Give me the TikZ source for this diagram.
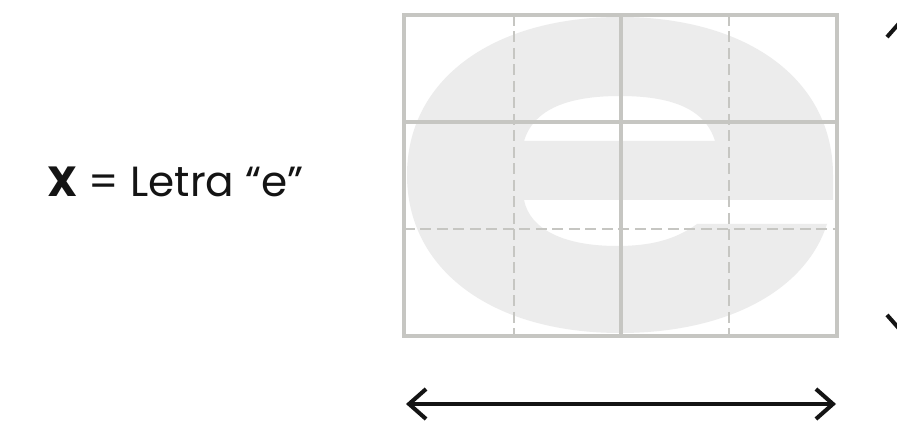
\documentclass[tikz,border=0pt]{standalone}
\usepackage{fontspec}
\setmainfont{Poppins}
\usepackage{tikz}
\usetikzlibrary{arrows.meta,positioning}
\definecolor{gridgray}{RGB}{198,198,194}
\definecolor{glyphgray}{RGB}{236,236,236}
\definecolor{inkblack}{RGB}{20,20,20}
\tikzset{
  gridline/.style={draw=gridgray, line width=2pt},
  gridguide/.style={draw=gridgray, line width=1.2pt, dash pattern=on 0.22cm off 0.11cm},
  measure/.style={draw=inkblack, line width=2.3pt, {Straight Barb[length=0.34cm,width=0.6cm]}-{Straight Barb[length=0.34cm,width=0.6cm]}}
}

\begin{document}
\begin{tikzpicture}[x=0.02cm, y=-0.02cm, every node/.style={font=\fontsize{24}{29}\selectfont, text=inkblack}]
\clip (0,0) rectangle (897,425);
\fill[white] (0,0) rectangle (897,425);

\node (lbl) [anchor=base west, inner sep=0pt] at (47,197) {\textbf{X} = Letra “e”};

\fill[glyphgray, even odd rule]
  (833,200) -- (833,175) .. controls (833,80) and (748,17) .. (620,17)
  .. controls (492,17) and (407,80) .. (407,175)
  .. controls (407,270) and (492,333) .. (620,333)
  .. controls (725,333) and (805,292) .. (827,224) -- (697,224)
  .. controls (675,240) and (650,246) .. (617,246)
  .. controls (565,246) and (530,230) .. (524,200) -- cycle
  (524,141) -- (715,141) .. controls (705,108) and (670,96) .. (620,96)
  .. controls (570,96) and (534,108) .. (524,141) -- cycle;

\draw[gridguide] (514,15) -- (514,336);
\draw[gridguide] (729,15) -- (729,336);
\draw[gridguide] (404,229) -- (837,229);
\draw[gridline] (404,15) rectangle (837,336);
\draw[gridline] (621,15) -- (621,336);
\draw[gridline] (404,122) -- (837,122);

\coordinate (wl) at (406,404);
\coordinate (wr) at (836,404);
\draw[measure] (wl) -- (wr);

\coordinate (ht) at (902,17);
\coordinate (hb) at (902,335);
\draw[measure] (ht) -- (hb);
\end{tikzpicture}
\end{document}
